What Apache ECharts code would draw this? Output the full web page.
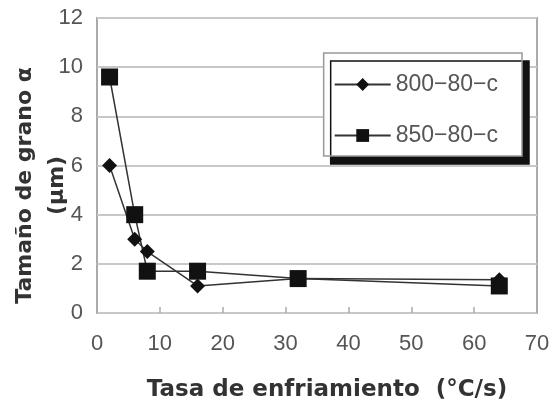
<!DOCTYPE html>
<html><head><meta charset="utf-8">
<script src="https://cdn.jsdelivr.net/npm/echarts@6/dist/echarts.min.js"></script>
<style>html,body{margin:0;padding:0;background:#fff}#c{width:549px;height:403px}</style>
</head><body><div id="c"></div>
<script>
var xValues = [2, 6, 8, 16, 32, 64];
var s800 = [6.0, 3.0, 2.5, 1.1, 1.4, 1.35];
var s850 = [9.6, 4.0, 1.7, 1.7, 1.4, 1.1];
var seriesNames = ['800\u221280\u2212c', '850\u221280\u2212c'];
var xTicks = [0, 10, 20, 30, 40, 50, 60, 70];
var yTicks = [0, 2, 4, 6, 8, 10, 12];

function pairs(xs, ys){ return xs.map(function(x,i){return [x, ys[i]];}); }
var chart = echarts.init(document.getElementById('c'));
var font = 'Liberation Sans, Arial, sans-serif';
var bfont = 'DejaVu Sans, sans-serif';
chart.setOption({
  animation:false,
  backgroundColor:'#fff',
  grid:{left:97, right:12, top:18, bottom:90, show:true, borderColor:'#aaa', borderWidth:2,
    containLabel:false, outerBoundsMode:'none'},
  xAxis:{type:'value', min:0, max:70, interval:10,
    axisLine:{show:false}, splitLine:{show:false},
    axisTick:{show:true, inside:true, length:6, lineStyle:{color:'#aaa', width:1.5}},
    axisLabel:{color:'#555', fontSize:22, fontFamily:font, margin:20},
    name:'Tasa de enfriamiento  (\u00b0C/s)', nameLocation:'middle', nameGap:66, nameMoveOverlap:false,
    nameTextStyle:{color:'#333', fontSize:23, fontWeight:'bold', fontFamily:bfont, padding:[0,0,0,20]}},
  yAxis:{type:'value', min:0, max:12, interval:2,
    axisLine:{show:false}, axisTick:{show:false},
    splitLine:{show:true, lineStyle:{color:'#c8c8c8', width:2}},
    axisLabel:{color:'#555', fontSize:22, fontFamily:font, margin:14},
    name:'Tamaño de grano \u03b1\n(\u03bcm)', nameLocation:'middle', nameGap:24, nameRotate:90,
    nameMoveOverlap:false,
    nameTextStyle:{color:'#333', fontSize:22, fontWeight:'bold', fontFamily:bfont, lineHeight:32,
      align:'center', padding:[0,40,0,0]}},
  legend:{orient:'vertical', right:27, top:53, itemGap:28, itemWidth:56, itemHeight:16,
    backgroundColor:'#fff', borderColor:'#999', borderWidth:1.5, padding:[20,24,9,10],
    shadowColor:'#111', shadowBlur:0, shadowOffsetX:7, shadowOffsetY:8,
    textStyle:{color:'#555', fontSize:23, fontFamily:font},
    data:seriesNames},
  series:[
    {name:seriesNames[0], type:'line', data:pairs(xValues, s800), symbol:'diamond', symbolSize:15,
      itemStyle:{color:'#111'}, lineStyle:{color:'#333', width:1.5}},
    {name:seriesNames[1], type:'line', data:pairs(xValues, s850), symbol:'rect', symbolSize:17,
      itemStyle:{color:'#111'}, lineStyle:{color:'#333', width:1.5}}
  ]
});
</script></body></html>
